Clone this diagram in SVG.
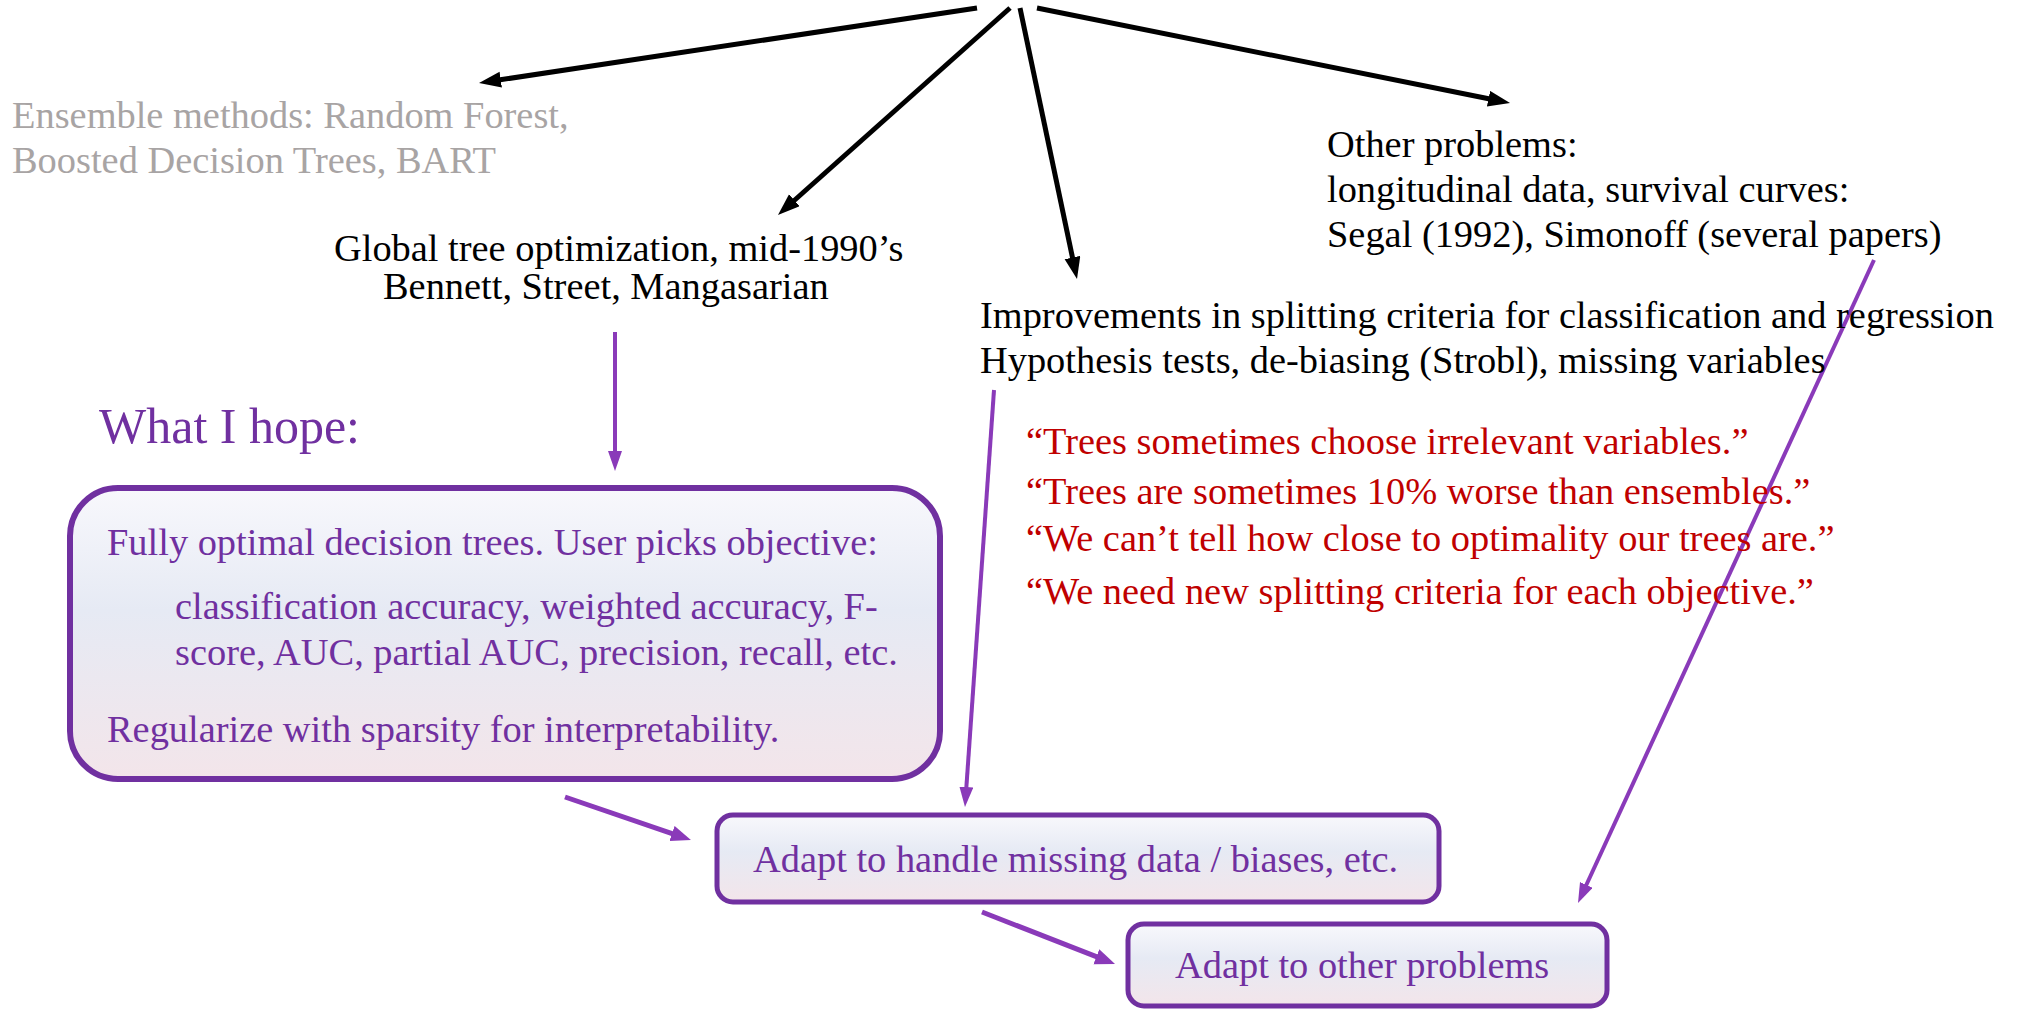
<svg xmlns="http://www.w3.org/2000/svg" width="2017" height="1010" viewBox="0 0 2017 1010">
  <style>
    text { font-family: "Liberation Serif", "Times New Roman", serif; font-size: 38.4px; }
    .blk { fill: #000000; }
    .gray { fill: #A8A4A4; }
    .red { fill: #C00000; }
    .pur { fill: #7030A0; }
    .hope { font-size: 50px; }
    .bline { stroke: #000000; stroke-width: 5; fill: none; marker-end: url(#ahBlack); }
    .pline { stroke: #8A3AB9; stroke-width: 4; fill: none; marker-end: url(#ahPurple); }
    .pthick { stroke: #8A3AB9; stroke-width: 5; fill: none; marker-end: url(#ahPurpleBig); }
    .box { fill: url(#boxGrad); stroke: #7030A0; }
  </style>
  <defs>
    <linearGradient id="boxGrad" x1="0" y1="0" x2="0" y2="1">
      <stop offset="0" stop-color="#F8F8FC"/>
      <stop offset="0.42" stop-color="#E6EAF4"/>
      <stop offset="1" stop-color="#F3E5EA"/>
    </linearGradient>
    <marker id="ahBlack" markerUnits="userSpaceOnUse" markerWidth="24" markerHeight="18" refX="4" refY="8" orient="auto">
      <path d="M0,0 L22,8 L0,16 z" fill="#000000"/>
    </marker>
    <marker id="ahPurple" markerUnits="userSpaceOnUse" markerWidth="22" markerHeight="16" refX="4" refY="7" orient="auto">
      <path d="M0,0 L20,7 L0,14 z" fill="#8A3AB9"/>
    </marker>
    <marker id="ahPurpleBig" markerUnits="userSpaceOnUse" markerWidth="24" markerHeight="18" refX="4" refY="8" orient="auto">
      <path d="M0,0 L20,8 L0,16 z" fill="#8A3AB9"/>
    </marker>
  </defs>

  <g id="connectors">
    <line class="bline" x1="977" y1="8" x2="496.8" y2="80.3"/>
    <line class="bline" x1="1010" y1="8" x2="791.4" y2="203"/>
    <line class="bline" x1="1020" y1="8" x2="1073.3" y2="261.4"/>
    <line class="bline" x1="1037" y1="8" x2="1492.4" y2="99.5"/>
    <line class="pline" x1="615" y1="332" x2="615" y2="455"/>
    <line class="pline" x1="994" y1="390" x2="966.1" y2="791"/>
    <line class="pline" x1="1874" y1="260" x2="1584.7" y2="888.5"/>
    <line class="pthick" x1="565" y1="797" x2="675.8" y2="834.8"/>
    <line class="pthick" x1="982" y1="912" x2="1100.1" y2="958.2"/>
  </g>

  <g id="ensemble">
    <text class="gray" x="12" y="128">Ensemble methods: Random Forest,</text>
    <text class="gray" x="12" y="173">Boosted Decision Trees, BART</text>
  </g>

  <g id="global-tree">
    <text class="blk" x="334" y="261">Global tree optimization, mid-1990’s</text>
    <text class="blk" x="383" y="299">Bennett, Street, Mangasarian</text>
  </g>

  <g id="improvements">
    <text class="blk" x="980" y="328">Improvements in splitting criteria for classification and regression</text>
    <text class="blk" x="980" y="373">Hypothesis tests, de-biasing (Strobl), missing variables</text>
  </g>

  <g id="other-problems">
    <text class="blk" x="1327" y="157">Other problems:</text>
    <text class="blk" x="1327" y="202">longitudinal data, survival curves:</text>
    <text class="blk" x="1327" y="247">Segal (1992), Simonoff (several papers)</text>
  </g>

  <g id="quotes">
    <text class="red" x="1026" y="454">“Trees sometimes choose irrelevant variables.”</text>
    <text class="red" x="1026" y="504">“Trees are sometimes 10% worse than ensembles.”</text>
    <text class="red" x="1026" y="551">“We can’t tell how close to optimality our trees are.”</text>
    <text class="red" x="1026" y="604">“We need new splitting criteria for each objective.”</text>
  </g>

  <g id="what-i-hope">
    <text class="pur hope" x="99" y="443">What I hope:</text>
  </g>

  <g id="optimal-trees">
    <rect class="box" x="70" y="488" width="870" height="291" rx="48" ry="48" stroke-width="6"/>
    <text class="pur" x="107" y="555">Fully optimal decision trees. User picks objective:</text>
    <text class="pur" x="175" y="619">classification accuracy, weighted accuracy, F-</text>
    <text class="pur" x="175" y="665">score, AUC, partial AUC, precision, recall, etc.</text>
    <text class="pur" x="107" y="742">Regularize with sparsity for interpretability.</text>
  </g>

  <g id="adapt-missing">
    <rect class="box" x="717" y="815" width="722" height="87" rx="16" ry="16" stroke-width="5"/>
    <text class="pur" x="753" y="872">Adapt to handle missing data / biases, etc.</text>
  </g>

  <g id="adapt-other">
    <rect class="box" x="1128" y="924" width="479" height="82" rx="16" ry="16" stroke-width="5"/>
    <text class="pur" x="1175" y="978">Adapt to other problems</text>
  </g>
</svg>
